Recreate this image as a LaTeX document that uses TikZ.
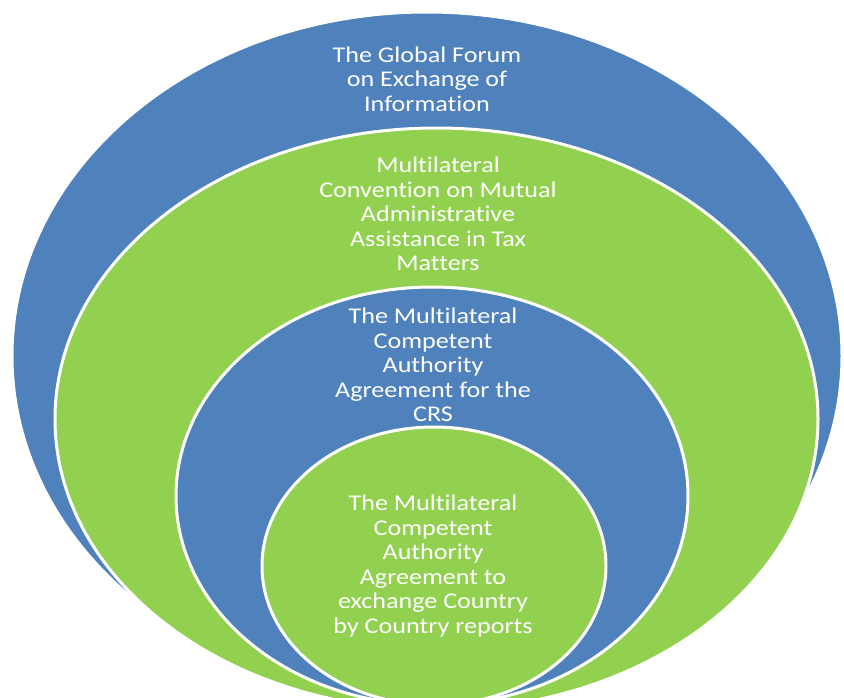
\documentclass[tikz,border=0pt]{standalone}
\usepackage{fontspec}
\setmainfont{Carlito}[FakeStretch=1.16,Ligatures=NoCommon,RawFeature={-liga;-clig}]
\definecolor{ringblue}{HTML}{4F81BD}
\definecolor{ringgreen}{HTML}{92D050}
\begin{document}
\begin{tikzpicture}[x=1pt,y=-1pt,
  ring/.style={line width=3pt,draw=white},
  label/.style={text=white,align=center,inner sep=0pt,
    font=\fontsize{22.5}{24.5}\selectfont}]
\useasboundingbox (0,0) rectangle (844,697);
\clip (0,0) rectangle (844,697);
% nested ellipses, outermost first
\filldraw[ring,fill=ringblue]  (427,356) ellipse [x radius=415pt, y radius=344pt];
\filldraw[ring,fill=ringgreen] (436.5,419) ellipse [x radius=381.5pt, y radius=291pt];
\filldraw[ring,fill=ringblue]  (432,496) ellipse [x radius=256pt, y radius=209pt];
\filldraw[ring,fill=ringgreen] (434,566) ellipse [x radius=172pt, y radius=139pt];
% labels
\node[label] (forum) at (427,79) {The Global Forum\\on Exchange of\\Information};
\node[label] (convention) at (438,214) {Multilateral\\Convention on Mutual\\Administrative\\Assistance in Tax\\Matters};
\node[label] (crs) at (433,365) {The Multilateral\\Competent\\Authority\\Agreement for the\\CRS};
\node[label] (cbc) at (433,566) {The Multilateral\\Competent\\Authority\\Agreement to\\exchange Country\\by Country reports};
\end{tikzpicture}
\end{document}
